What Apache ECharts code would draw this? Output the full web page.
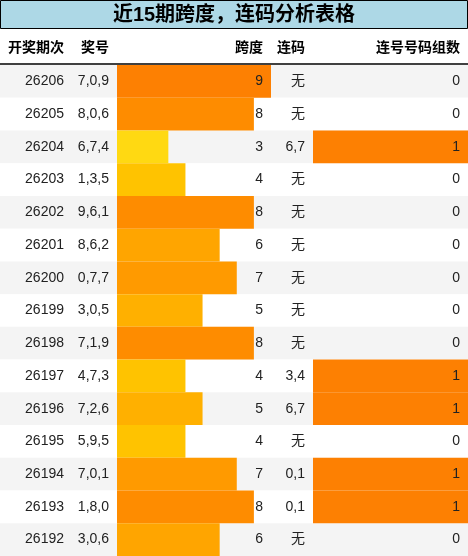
<!DOCTYPE html>
<html><head><meta charset="utf-8">
<script src="https://cdn.jsdelivr.net/npm/echarts@6/dist/echarts.min.js"></script>
<style>html,body{margin:0;padding:0;background:#fff}#c{width:468px;height:556px}</style>
</head><body><div id="c"></div>
<script>
const periods = ['26206','26205','26204','26203','26202','26201','26200','26199','26198','26197','26196','26195','26194','26193','26192'];
const numbers = ['7,0,9','8,0,6','6,7,4','1,3,5','9,6,1','8,6,2','0,7,7','3,0,5','7,1,9','4,7,3','7,2,6','5,9,5','7,0,1','1,8,0','3,0,6'];
const spans = [9,8,3,4,8,6,7,5,8,4,5,4,7,8,6];
const consecutive = ['无','无','6,7','无','无','无','无','无','无','3,4','6,7','无','0,1','0,1','无'];
const pairCounts = [0,0,1,0,0,0,0,0,0,1,1,0,1,1,0];
const headers = ['开奖期次','奖号','跨度','连码','连号号码组数'];
const title = '近15期跨度，连码分析表格';

const spanColors = {3:'#ffd912',4:'#ffc300',5:'#ffb000',6:'#ffa500',7:'#ff9a00',8:'#fe8c00',9:'#fd8002'};
const FONT = '"Liberation Sans","Noto Sans CJK SC",sans-serif';
const cats = periods.map((p,i)=>i);
const chart = echarts.init(document.getElementById('c'));
function yAx(g){return {type:'category',data:cats,inverse:true,gridIndex:g,show:false};}
const colRight = [64,109,263,305,460];
chart.setOption({
  animation:false,
  title:{show:false},
  grid:[
    {left:0,right:0,top:65,bottom:0},
    {left:117,width:154,top:65,bottom:0},
    {left:313,right:0,top:65,bottom:0}
  ],
  xAxis:[
    {type:'value',min:0,max:468,gridIndex:0,show:false},
    {type:'value',min:0,max:9,gridIndex:1,show:false},
    {type:'value',min:0,max:1,gridIndex:2,show:false}
  ],
  yAxis:[yAx(0),yAx(1),yAx(2)],
  graphic:[
    {type:'rect',shape:{x:0.5,y:0.5,width:467,height:28},style:{fill:'#add8e6',stroke:'#000',lineWidth:1},z:10},
    {type:'text',x:234,y:15,style:{text:title,font:'bold 20px '+FONT,fill:'#000',align:'center',verticalAlign:'middle'},z:11},
    {type:'line',shape:{x1:0,y1:64,x2:468,y2:64},style:{stroke:'#000',lineWidth:1.5},z:11},
    ...headers.map((h,i)=>({type:'text',x:colRight[i],y:48,style:{text:h,font:'bold 14px '+FONT,fill:'#000',align:'right',verticalAlign:'middle'},z:11}))
  ],
  series:[
    {type:'custom',xAxisIndex:0,yAxisIndex:0,z:0,data:cats.map(i=>[0,i]),
     renderItem:(p,api)=>{const i=api.value(1);const c=api.coord([0,i]);const h=api.size([0,1])[1];
       return {type:'rect',shape:{x:0,y:c[1]-h/2,width:468,height:h},style:{fill:i%2===0?'#f4f4f4':'#ffffff'}};}},
    {type:'bar',xAxisIndex:1,yAxisIndex:1,barCategoryGap:0,z:2,
     data:spans.map(v=>({value:v,itemStyle:{color:spanColors[v]}}))},
    {type:'bar',xAxisIndex:2,yAxisIndex:2,barCategoryGap:0,z:2,
     data:pairCounts.map(v=>({value:v,itemStyle:{color:'#fd8002'}}))},
    {type:'custom',xAxisIndex:0,yAxisIndex:0,z:5,data:cats.map(i=>[0,i]),
     renderItem:(p,api)=>{const i=api.value(1);const y=api.coord([0,i])[1];
       const vals=[periods[i],numbers[i],String(spans[i]),consecutive[i],String(pairCounts[i])];
       return {type:'group',children:vals.map((t,k)=>({type:'text',x:colRight[k],y:y,
         style:{text:t,font:'14px '+FONT,fill:'#222',align:'right',verticalAlign:'middle'}}))};}}
  ]
});
</script></body></html>
